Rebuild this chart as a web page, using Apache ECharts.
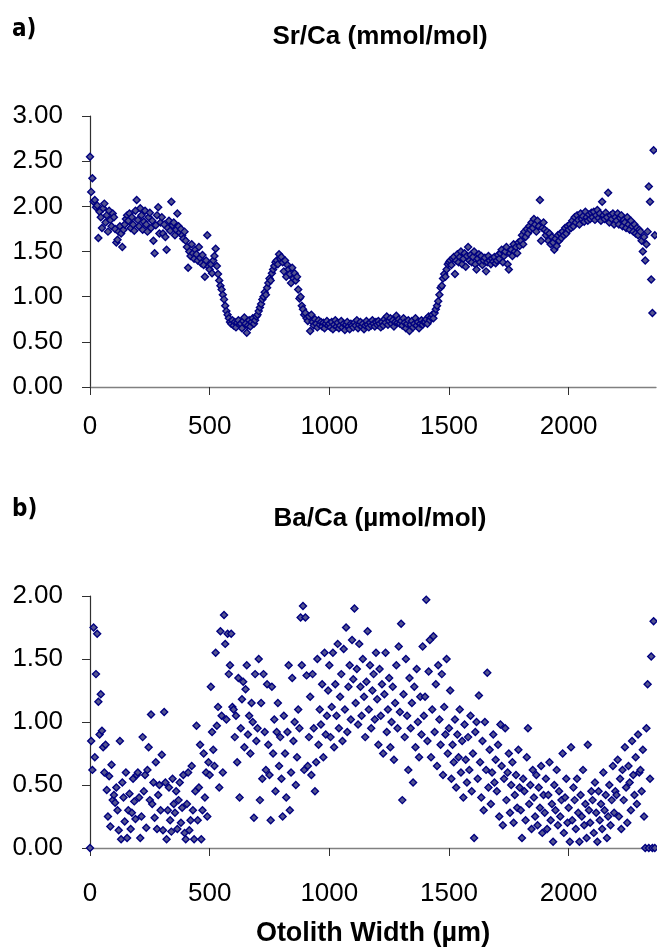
<!DOCTYPE html>
<html>
<head>
<meta charset="utf-8">
<script src="https://cdn.jsdelivr.net/npm/echarts@6/dist/echarts.min.js"></script>
<style>html,body{margin:0;padding:0;background:#fff}#c{width:657px;height:950px}</style>
</head>
<body>
<div id="c"></div>
<script>
// Distance along otolith transect (µm)
const distance = [
0,5,10,15,20,25,30,35,40,45,50,55,60,65,70,75,80,85,90,95,
100,105,110,115,120,125,130,135,140,145,150,155,160,165,170,175,180,185,190,195,
200,205,210,215,220,225,230,235,240,245,250,255,260,265,270,275,280,285,290,295,
300,305,310,315,320,325,330,335,340,345,350,355,360,365,370,375,380,385,390,395,
400,405,410,415,420,425,430,435,440,445,450,455,460,465,470,475,480,485,490,495,
500,505,510,515,520,525,530,535,540,545,550,555,560,565,570,575,580,585,590,595,
600,605,610,615,620,625,630,635,640,645,650,655,660,665,670,675,680,685,690,695,
700,705,710,715,720,725,730,735,740,745,750,755,760,765,770,775,780,785,790,795,
800,805,810,815,820,825,830,835,840,845,850,855,860,865,870,875,880,885,890,895,
900,905,910,915,920,925,930,935,940,945,950,955,960,965,970,975,980,985,990,995,
1000,1005,1010,1015,1020,1025,1030,1035,1040,1045,1050,1055,1060,1065,1070,1075,1080,1085,1090,1095,
1100,1105,1110,1115,1120,1125,1130,1135,1140,1145,1150,1155,1160,1165,1170,1175,1180,1185,1190,1195,
1200,1205,1210,1215,1220,1225,1230,1235,1240,1245,1250,1255,1260,1265,1270,1275,1280,1285,1290,1295,
1300,1305,1310,1315,1320,1325,1330,1335,1340,1345,1350,1355,1360,1365,1370,1375,1380,1385,1390,1395,
1400,1405,1410,1415,1420,1425,1430,1435,1440,1445,1450,1455,1460,1465,1470,1475,1480,1485,1490,1495,
1500,1505,1510,1515,1520,1525,1530,1535,1540,1545,1550,1555,1560,1565,1570,1575,1580,1585,1590,1595,
1600,1605,1610,1615,1620,1625,1630,1635,1640,1645,1650,1655,1660,1665,1670,1675,1680,1685,1690,1695,
1700,1705,1710,1715,1720,1725,1730,1735,1740,1745,1750,1755,1760,1765,1770,1775,1780,1785,1790,1795,
1800,1805,1810,1815,1820,1825,1830,1835,1840,1845,1850,1855,1860,1865,1870,1875,1880,1885,1890,1895,
1900,1905,1910,1915,1920,1925,1930,1935,1940,1945,1950,1955,1960,1965,1970,1975,1980,1985,1990,1995,
2000,2005,2010,2015,2020,2025,2030,2035,2040,2045,2050,2055,2060,2065,2070,2075,2080,2085,2090,2095,
2100,2105,2110,2115,2120,2125,2130,2135,2140,2145,2150,2155,2160,2165,2170,2175,2180,2185,2190,2195,
2200,2205,2210,2215,2220,2225,2230,2235,2240,2245,2250,2255,2260,2265,2270,2275,2280,2285,2290,2295,
2300,2305,2310,2315,2320,2325,2330,2335,2340,2345,2350,2355,2360
];

// Sr/Ca (mmol/mol)
const srCa = [
2.55,2.16,2.31,2.05,2.07,1.99,2.01,1.65,1.94,1.88,1.76,1.98,2.03,1.82,1.90,1.72,1.95,1.85,1.78,1.92,
1.88,1.75,1.60,1.63,1.72,1.78,1.70,1.55,1.74,1.80,1.86,1.90,1.84,1.92,1.76,1.88,1.80,1.73,1.95,2.07,
1.85,1.78,1.98,1.90,1.74,1.83,1.95,1.80,1.72,1.88,1.93,1.76,1.84,1.62,1.48,1.79,1.90,1.99,1.70,1.82,
1.88,1.70,1.80,1.66,1.52,1.76,1.84,1.73,2.05,1.79,1.82,1.68,1.74,1.92,1.78,1.71,1.75,1.68,1.64,1.72,
1.62,1.55,1.32,1.50,1.45,1.58,1.48,1.42,1.52,1.47,1.40,1.55,1.43,1.37,1.46,1.35,1.22,1.40,1.68,1.33,
1.30,1.36,1.26,1.40,1.45,1.53,1.34,1.25,1.18,1.12,1.08,1.02,0.97,0.90,0.84,0.80,0.76,0.72,0.70,0.74,
0.68,0.72,0.66,0.71,0.74,0.69,0.70,0.65,0.73,0.77,0.70,0.60,0.68,0.74,0.67,0.72,0.76,0.70,0.74,0.78,
0.80,0.84,0.88,0.92,0.97,1.00,1.05,1.02,1.10,1.15,1.20,1.18,1.26,1.30,1.34,1.38,1.40,1.36,1.47,1.42,
1.44,1.38,1.28,1.40,1.22,1.35,1.30,1.25,1.15,1.32,1.20,1.26,1.18,1.22,1.08,0.98,1.00,0.90,0.86,0.80,
0.82,0.76,0.73,0.78,0.62,0.80,0.72,0.68,0.75,0.70,0.66,0.74,0.69,0.72,0.67,0.71,0.65,0.70,0.73,0.68,
0.70,0.66,0.72,0.64,0.69,0.74,0.67,0.71,0.65,0.68,0.73,0.66,0.70,0.63,0.69,0.72,0.67,0.64,0.70,0.68,
0.66,0.71,0.68,0.74,0.65,0.69,0.72,0.67,0.70,0.64,0.68,0.73,0.69,0.66,0.71,0.68,0.74,0.70,0.67,0.72,
0.69,0.73,0.70,0.66,0.72,0.68,0.75,0.71,0.78,0.69,0.73,0.76,0.70,0.74,0.67,0.72,0.79,0.71,0.75,0.70,
0.73,0.68,0.76,0.71,0.65,0.70,0.74,0.62,0.69,0.73,0.66,0.70,0.76,0.68,0.72,0.65,0.70,0.74,0.69,0.72,
0.72,0.75,0.70,0.78,0.74,0.77,0.80,0.76,0.82,0.86,0.90,0.95,1.02,1.10,1.12,1.20,1.25,1.22,1.30,1.36,
1.38,1.40,1.35,1.42,1.44,1.25,1.40,1.47,1.38,1.44,1.50,1.36,1.42,1.48,1.33,1.45,1.55,1.40,1.46,1.38,
1.44,1.50,1.36,1.30,1.42,1.47,1.38,1.45,1.35,1.40,1.43,1.28,1.38,1.45,1.40,1.36,1.42,1.39,1.44,1.37,
1.40,1.46,1.42,1.48,1.52,1.38,1.45,1.50,1.55,1.36,1.30,1.48,1.52,1.45,1.58,1.50,1.55,1.48,1.60,1.56,
1.62,1.68,1.58,1.72,1.66,1.75,1.70,1.78,1.74,1.82,1.76,1.86,1.80,1.72,1.84,1.78,2.07,1.62,1.76,1.82,
1.74,1.68,1.72,1.62,1.70,1.58,1.66,1.60,1.52,1.64,1.56,1.68,1.62,1.70,1.65,1.72,1.68,1.76,1.70,1.78,
1.74,1.80,1.76,1.84,1.78,1.88,1.82,1.90,1.85,1.80,1.92,1.86,1.89,1.83,1.94,1.88,1.84,1.91,1.86,1.93,
1.88,1.94,1.85,1.90,1.96,1.87,1.92,1.84,2.05,1.90,1.86,1.93,1.88,2.15,1.82,1.90,1.86,1.92,1.80,1.88,
1.84,1.92,1.80,1.87,1.90,1.78,1.85,1.82,1.76,1.88,1.80,1.74,1.84,1.78,1.72,1.80,1.70,1.76,1.68,1.74,
1.72,1.62,1.50,1.66,1.40,1.58,1.72,2.22,2.05,1.19,0.82,2.62,1.68
];

// Ba/Ca (µmol/mol)
const baCa = [
0.00,0.85,0.62,1.75,0.72,1.38,1.70,1.16,0.90,1.22,0.93,0.80,0.60,0.82,0.46,0.25,0.57,0.17,0.66,0.38,
0.42,0.36,0.48,0.30,0.14,0.85,0.07,0.52,0.40,0.21,0.60,0.08,0.30,0.43,0.15,0.28,0.55,0.37,0.23,0.58,
0.60,0.40,0.08,0.25,0.88,0.45,0.58,0.16,0.62,0.80,0.38,1.06,0.35,0.52,0.24,0.68,0.15,0.42,0.50,0.30,
0.74,0.14,1.08,0.52,0.07,0.30,0.48,0.22,0.13,0.55,0.35,0.28,0.45,0.15,0.38,0.52,0.20,0.32,0.58,0.12,
0.07,0.35,0.60,0.14,0.22,0.65,0.30,0.07,0.45,0.97,0.22,0.48,0.82,0.07,0.30,0.75,0.40,0.60,0.25,0.68,
0.58,1.28,0.92,0.78,0.65,1.55,0.97,1.12,0.48,1.72,1.05,0.60,1.85,1.62,1.02,1.70,1.38,1.45,1.70,1.12,
1.10,0.88,1.05,0.68,1.35,0.40,0.95,1.18,1.32,0.80,1.26,1.45,0.90,1.05,0.75,1.15,1.00,0.24,1.38,0.85,
0.95,1.50,0.38,1.15,0.55,1.38,0.92,0.62,1.30,0.82,0.58,0.22,1.28,0.75,1.02,0.45,0.92,1.15,0.65,0.88,
0.55,0.25,1.05,0.75,0.40,0.92,1.45,0.30,0.60,1.35,0.85,1.00,0.50,0.72,1.10,0.95,1.83,1.45,1.92,0.62,
1.83,1.37,0.65,0.88,1.20,0.58,1.38,0.95,0.45,0.68,1.50,0.82,1.10,0.98,1.30,0.72,1.55,0.90,1.05,1.25,
1.45,0.88,1.12,1.55,0.80,1.30,1.05,1.62,0.95,1.20,1.38,0.85,1.58,1.10,1.75,0.92,1.28,1.45,1.02,1.65,
1.34,1.90,1.15,1.42,0.98,1.62,1.28,1.05,1.50,1.20,0.88,1.32,1.72,1.10,1.45,0.95,1.25,1.38,1.02,1.55,
1.18,0.82,1.42,1.05,1.30,0.75,1.22,1.55,0.92,1.10,1.35,0.80,1.00,1.28,0.70,1.15,1.45,0.95,1.60,1.08,
1.78,0.38,1.22,0.88,1.50,1.05,0.62,1.35,0.95,1.15,0.52,1.28,0.80,1.42,1.00,0.72,1.20,0.90,1.60,1.05,
1.20,1.97,0.85,1.40,1.65,0.72,1.10,1.68,0.92,1.30,0.65,1.45,1.02,0.82,1.38,0.58,1.12,0.90,1.50,0.75,
0.95,1.25,0.55,0.82,0.68,1.02,0.48,0.90,0.72,1.10,0.60,0.85,0.40,0.98,0.70,0.52,0.88,0.62,1.05,0.45,
0.75,0.08,0.92,1.00,0.55,1.21,0.68,0.40,0.85,0.30,1.00,0.62,1.39,0.48,0.78,0.35,0.60,0.90,0.52,0.70,
0.45,0.82,0.25,0.98,0.65,0.18,0.55,0.95,0.38,0.60,0.75,0.28,0.50,0.68,0.20,0.42,0.58,0.32,0.78,0.48,
0.30,0.08,0.55,0.45,0.22,0.72,0.95,0.35,0.50,0.15,0.62,0.40,0.25,0.58,0.18,0.48,0.32,0.65,0.12,0.42,
0.28,0.55,0.15,0.42,0.68,0.22,0.35,0.05,0.50,0.30,0.62,0.18,0.45,0.25,0.38,0.75,0.12,0.40,0.55,0.20,
0.32,0.05,0.80,0.22,0.48,0.38,0.15,0.55,0.28,0.05,0.42,0.25,0.62,0.18,0.35,0.08,0.82,0.30,0.20,0.45,
0.38,0.12,0.52,0.28,0.05,0.45,0.22,0.35,0.15,0.60,0.30,0.42,0.08,0.25,0.50,0.18,0.38,0.65,0.28,0.45,
0.42,0.70,0.25,0.55,0.15,0.62,0.38,0.80,0.48,0.20,0.65,0.52,0.30,0.85,0.58,0.42,0.72,0.35,0.90,0.60,
0.62,0.45,0.78,0.25,0.00,0.95,1.30,0.00,0.55,1.52,0.00,1.80,0.00
];

const xTicks = [0, 500, 1000, 1500, 2000];
const panelLabels = ['a)', 'b)'];
const panelTitles = ['Sr/Ca (mmol/mol)', 'Ba/Ca (µmol/mol)'];
const xTitle = 'Otolith Width (µm)';

const FONT = '"Liberation Sans", Arial, Helvetica, sans-serif';
const srData = distance.map((d, i) => [d, srCa[i]]);
const baData = distance.map((d, i) => [d, baCa[i]]);

function xAxisCfg(gi, margin, extra) {
  return Object.assign({
    type: 'value', gridIndex: gi, min: 0, max: 2365,
    axisLine: { show: true, onZero: false, lineStyle: { color: '#808080', width: 1.3 } },
    axisTick: { show: true, inside: false, length: 8, customValues: xTicks, lineStyle: { color: '#303030', width: 1 } },
    axisLabel: { customValues: xTicks, fontSize: 26, color: '#000', fontFamily: FONT, margin: margin, formatter: v => String(v) },
    splitLine: { show: false }
  }, extra || {});
}
function yAxisCfg(gi, max) {
  return {
    type: 'value', gridIndex: gi, min: 0, max: max, interval: 0.5,
    axisLine: { show: true, lineStyle: { color: '#303030', width: 1.2 } },
    axisTick: { show: true, inside: false, length: 8, lineStyle: { color: '#303030', width: 1 } },
    axisLabel: { fontSize: 26, color: '#000', fontFamily: FONT, margin: 27, formatter: v => v.toFixed(2) },
    splitLine: { show: false }
  };
}
const marker = {
  type: 'scatter', symbol: 'diamond', symbolSize: 7,
  itemStyle: { color: '#55558f', borderColor: '#000080', borderWidth: 1.4, opacity: 1 },
  emphasis: { disabled: true }, animation: false
};

const chart = echarts.init(document.getElementById('c'), null, { renderer: 'canvas' });
chart.setOption({
  backgroundColor: '#fff',
  animation: false,
  grid: [
    { left: 90, top: 116, width: 566, height: 271 },
    { left: 90, top: 596, width: 566, height: 252 }
  ],
  xAxis: [
    xAxisCfg(0, 27),
    xAxisCfg(1, 33, {
      name: xTitle, nameLocation: 'middle', nameGap: 72,
      nameTextStyle: { fontSize: 27, fontWeight: 'bold', color: '#000', fontFamily: FONT }
    })
  ],
  yAxis: [ yAxisCfg(0, 3), yAxisCfg(1, 2) ],
  series: [
    Object.assign({}, marker, { xAxisIndex: 0, yAxisIndex: 0, data: srData }),
    Object.assign({}, marker, { xAxisIndex: 1, yAxisIndex: 1, data: baData })
  ],
  graphic: [
    { type: 'text', x: 12, y: 30, style: { text: panelLabels[0], fontSize: 24, fontWeight: 'bold', fontFamily: '"Liberation Sans Narrow", "DejaVu Sans Condensed", sans-serif', fill: '#000', verticalAlign: 'middle' } },
    { type: 'text', x: 12, y: 510, style: { text: panelLabels[1], fontSize: 24, fontWeight: 'bold', fontFamily: '"Liberation Sans Narrow", "DejaVu Sans Condensed", sans-serif', fill: '#000', verticalAlign: 'middle' } },
    { type: 'text', x: 380, y: 37, style: { text: panelTitles[0], fontSize: 26, fontWeight: 'bold', fontFamily: FONT, fill: '#000', align: 'center', verticalAlign: 'middle' } },
    { type: 'text', x: 380, y: 519, style: { text: panelTitles[1], fontSize: 26, fontWeight: 'bold', fontFamily: FONT, fill: '#000', align: 'center', verticalAlign: 'middle' } }
  ]
});
</script>
</body>
</html>
